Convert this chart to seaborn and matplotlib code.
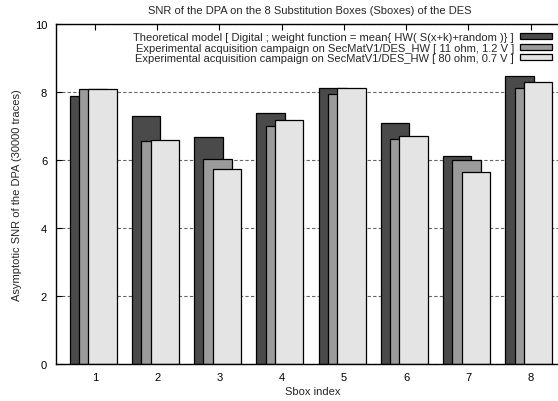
import matplotlib
matplotlib.use("Agg")
import matplotlib.pyplot as plt
import seaborn as sns
import numpy as np
import pandas as pd

# ---- data ----
sboxes = [1, 2, 3, 4, 5, 6, 7, 8]
theoretical = [7.89, 7.28, 6.69, 7.39, 8.12, 7.08, 6.12, 8.47]
exp_11ohm = [8.09, 6.57, 6.02, 6.99, 7.94, 6.62, 6.00, 8.11]
exp_80ohm = [8.09, 6.59, 5.75, 7.17, 8.11, 6.70, 5.66, 8.28]
labels = [
    "Theoretical model [ Digital ; weight function = mean{ HW( S(x+k)+random )} ]",
    "Experimental acquisition campaign on SecMatV1/DES_HW [ 11 ohm, 1.2 V ]",
    "Experimental acquisition campaign on SecMatV1/DES_HW [ 80 ohm, 0.7 V ]",
]
title = "SNR of the DPA on the 8 Substitution Boxes (Sboxes) of the DES"
xlabel = "Sbox index"
ylabel = "Asymptotic SNR of the DPA (30000 traces)"

# ---- style ----
sns.set_style("ticks")
plt.rcParams["font.family"] = ["Liberation Sans", "DejaVu Sans"]
FS = 8
plt.rcParams["font.size"] = FS

colors = ["#4a4a4a", "#9b9b9b", "#e4e4e4"]
offsets = [-0.178, -0.028, 0.122]
bar_w = 0.457

W, H = 558, 402
fig = plt.figure(figsize=(W / 100, H / 100), dpi=100)
left, right, top, bottom = 55.5, 570, 25, 365
ax = fig.add_axes([left / W, 1 - bottom / H, (right - left) / W, (bottom - top) / H])

series = [theoretical, exp_11ohm, exp_80ohm]
for vals, col, off, lab in zip(series, colors, offsets, labels):
    df = pd.DataFrame({"pos": np.array(sboxes, dtype=float) + off, "snr": vals})
    sns.barplot(data=df, x="pos", y="snr", native_scale=True, width=bar_w,
                color=col, saturation=1, edgecolor="black", linewidth=0.9,
                errorbar=None, ax=ax, label=lab)

ax.set_xlim(0.366, 8.634)
ax.set_ylim(0, 10)
ax.set_xticks(sboxes)
ax.set_xticklabels([str(s) for s in sboxes])
ax.set_yticks([0, 2, 4, 6, 8, 10])
ax.set_yticklabels(["0", "2", "4", "6", "8", "10"])
ax.set_axisbelow(True)
ax.yaxis.grid(True, linestyle=(0, (3, 2)), color="#666666", linewidth=0.8)
ax.xaxis.grid(False)
ax.tick_params(direction="in", top=True, right=True, length=4, width=0.8,
               labelsize=FS, pad=6, colors="black")
for s in ax.spines.values():
    s.set_linewidth(1.0)
    s.set_color("black")
ax.set_xlabel(xlabel, fontsize=FS, labelpad=3)
ax.set_ylabel(ylabel, fontsize=FS, labelpad=9)

fig.text(310 / W, 1 - 11 / H, title, ha="center", va="center", fontsize=FS)

handles = list(ax.containers)
leg = ax.legend(handles, labels, loc="upper right",
                bbox_to_anchor=(552 / W, 1 - 33 / H), bbox_transform=fig.transFigure,
                frameon=False, markerfirst=False, borderpad=0, borderaxespad=0,
                handlelength=2.9, handleheight=0.48, handletextpad=0.54,
                labelspacing=0.06, fontsize=FS)

fig.savefig("out.png", dpi=100)
